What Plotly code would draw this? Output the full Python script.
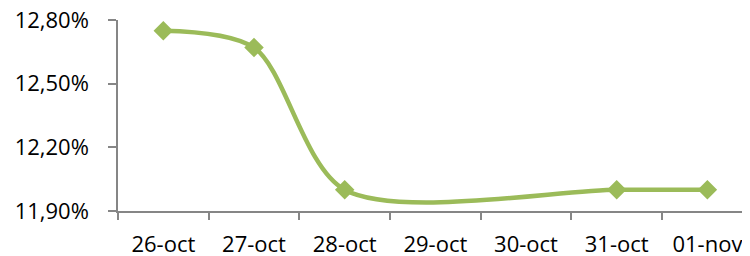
import plotly.graph_objects as go

categories = ["26-oct", "27-oct", "28-oct", "29-oct", "30-oct", "31-oct", "01-nov"]
values = [12.75, 12.67, 12.00, None, None, 12.00, 12.00]
y_tickvals = [11.90, 12.20, 12.50, 12.80]
y_ticktext = ["11,90%", "12,20%", "12,50%", "12,80%"]

GREEN = "#9BBB59"
AXIS = "#868686"
FONT = dict(family="Open Sans", size=22, color="#000000")

fig = go.Figure()
fig.add_trace(go.Scatter(
    x=list(range(len(categories))),
    y=values,
    mode="lines+markers",
    connectgaps=True,
    line=dict(color=GREEN, width=4.5, shape="spline", smoothing=0.85),
    marker=dict(symbol="diamond", size=15, color=GREEN),
    showlegend=False,
    hoverinfo="skip",
))

# the page body has an 8px default margin, so the figure is offset by (8, 8)
fig.update_layout(
    width=742, height=248,
    margin=dict(l=110, r=0, t=12, b=45),
    paper_bgcolor="white", plot_bgcolor="white",
    font=FONT,
    xaxis=dict(
        range=[-0.5, 6.47],
        tickmode="array",
        tickvals=list(range(len(categories))),
        ticktext=categories,
        showgrid=False, zeroline=False,
        showline=True, linecolor=AXIS, linewidth=1.5,
        ticks="", ticklabelstandoff=13,
        ticklabeloverflow="allow",
        automargin=False,
    ),
    yaxis=dict(
        range=[11.8999, 12.8001],
        tickmode="array",
        tickvals=y_tickvals,
        ticktext=y_ticktext,
        showgrid=False, zeroline=False,
        showline=True, linecolor=AXIS, linewidth=1.5,
        ticks="outside", ticklen=8, tickcolor=AXIS, tickwidth=1.5,
        ticklabelstandoff=15,
        ticklabeloverflow="allow",
        automargin=False,
    ),
)

# category boundary ticks on the x axis (minor ticks at half positions)
fig.update_xaxes(
    minor=dict(
        tickmode="array",
        tickvals=[i - 0.5 for i in range(len(categories) + 1)],
        ticks="outside", ticklen=7, tickcolor=AXIS, tickwidth=1.5,
        showgrid=False,
    )
)

fig.write_html("out.html")
